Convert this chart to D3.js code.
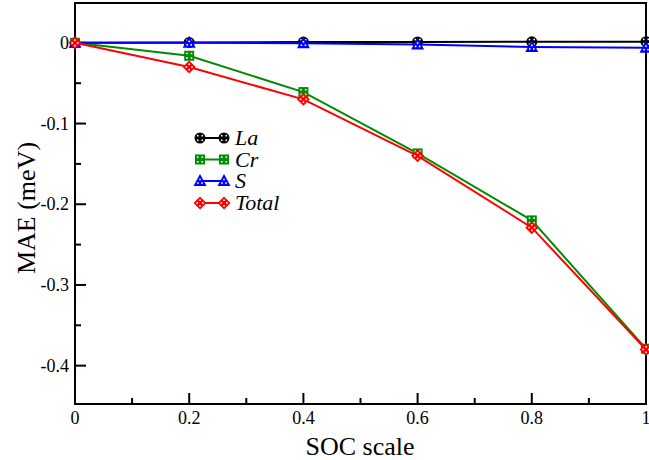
<!DOCTYPE html>
<html><head><meta charset="utf-8">
<script src="https://cdn.jsdelivr.net/npm/d3@7"></script>
<style>body{margin:0;background:#fff}</style>
</head><body><svg id="c" width="649" height="460"></svg>
<script>
const socScale = [0, 0.2, 0.4, 0.6, 0.8, 1.0];
const La    = [0, 0.0005, 0.001, 0.0012, 0.0013, 0.0015];
const Cr    = [0, -0.016, -0.061, -0.137, -0.220, -0.379];
const S     = [0, 0.0, -0.0005, -0.002, -0.005, -0.006];
const Total = [0, -0.030, -0.070, -0.140, -0.229, -0.380];
const seriesNames = ["La", "Cr", "S", "Total"];
const seriesColors = ["#000000", "#008c00", "#0000ff", "#ff0000"];
const seriesShapes = ["circle", "square", "triangle", "diamond"];
const xTicks = [0, 0.2, 0.4, 0.6, 0.8, 1];
const xTickLabels = ["0", "0.2", "0.4", "0.6", "0.8", "1"];
const yTicks = [0, -0.1, -0.2, -0.3, -0.4];
const yTickLabels = ["0", "-0.1", "-0.2", "-0.3", "-0.4"];
const xLabel = "SOC scale";
const yLabel = "MAE (meV)";

const svg = d3.select("#c");
const L = 75, R = 646, T = 3, B = 404;
const x = d3.scaleLinear().domain([0, 1]).range([L, R]);
const y = d3.scaleLinear().domain([-0.45, 0.05]).range([406, 2.5]);

function st(size, italic) {
  return `font-family:"Times New Roman","Liberation Serif",serif;font-size:${size}px;` + (italic ? "font-style:italic;" : "");
}

// frame
svg.append("rect").attr("x", L).attr("y", T).attr("width", R - L).attr("height", B - T)
  .attr("fill", "none").attr("stroke", "#000").attr("stroke-width", 2);

// x axis ticks (inward)
const xMinor = [0.1, 0.3, 0.5, 0.7, 0.9];
const xAx = svg.append("g");
xAx.selectAll("line.maj").data(xTicks).join("line")
  .attr("x1", d => x(d)).attr("x2", d => x(d)).attr("y1", B).attr("y2", B - 11)
  .attr("stroke", "#000").attr("stroke-width", 2);
xAx.selectAll("line.min").data(xMinor).join("line")
  .attr("x1", d => x(d)).attr("x2", d => x(d)).attr("y1", B).attr("y2", B - 6)
  .attr("stroke", "#000").attr("stroke-width", 2);
xAx.selectAll("text").data(xTicks).join("text")
  .attr("x", d => x(d)).attr("y", 424).attr("text-anchor", "middle")
  .attr("style", st(18)).text((d, i) => xTickLabels[i]);

// y axis ticks
const yMinor = [-0.05, -0.15, -0.25, -0.35];
const yAx = svg.append("g");
yAx.selectAll("line.maj").data(yTicks).join("line")
  .attr("x1", L).attr("x2", L + 11).attr("y1", d => y(d)).attr("y2", d => y(d))
  .attr("stroke", "#000").attr("stroke-width", 2);
yAx.selectAll("line.min").data(yMinor).join("line")
  .attr("x1", L).attr("x2", L + 6).attr("y1", d => y(d)).attr("y2", d => y(d))
  .attr("stroke", "#000").attr("stroke-width", 2);
yAx.selectAll("text").data(yTicks).join("text")
  .attr("x", 69).attr("y", d => y(d) + 6).attr("text-anchor", "end")
  .attr("style", st(18)).text((d, i) => yTickLabels[i]);

// labels
svg.append("text").attr("x", 360).attr("y", 455).attr("text-anchor", "middle")
  .attr("style", st(26)).text(xLabel);
svg.append("text").attr("transform", "translate(35,208) rotate(-90)").attr("text-anchor", "middle")
  .attr("style", st(26)).text(yLabel);

function marker(g, shape, color, cx, cy) {
  const m = g.append("g").attr("transform", `translate(${cx},${cy})`);
  if (shape === "circle") {
    m.append("circle").attr("r", 5.5).attr("fill", color);
  } else if (shape === "square") {
    m.append("rect").attr("x", -5).attr("y", -5).attr("width", 10).attr("height", 10).attr("fill", color);
  } else if (shape === "triangle") {
    m.append("path").attr("d", "M0,-7 L6.5,5 L-6.5,5 Z").attr("fill", color);
  } else {
    m.append("path").attr("d", "M0,-6.5 L6.5,0 L0,6.5 L-6.5,0 Z").attr("fill", color);
  }
  let dd = [[-2.3,-2.3],[2.3,-2.3],[-2.3,2.3],[2.3,2.3]];
  if (shape === "triangle") dd = [[0,-1.5],[-2,2],[2,2]];
  if (shape === "diamond") dd = [[0,-2.8],[2.8,0],[0,2.8],[-2.8,0]];
  dd.forEach(p => m.append("rect").attr("x", p[0] - 0.8).attr("y", p[1] - 0.8)
    .attr("width", 1.6).attr("height", 1.6).attr("fill", "#fff"));
}

const data = [La, Cr, S, Total];
const line = d3.line().x((d, i) => x(socScale[i])).y(d => y(d));
data.forEach((vals, k) => {
  const g = svg.append("g");
  g.append("path").datum(vals).attr("d", line).attr("fill", "none")
    .attr("stroke", seriesColors[k]).attr("stroke-width", 2);
  vals.forEach((v, i) => marker(g, seriesShapes[k], seriesColors[k], x(socScale[i]), y(v)));
});

// legend
const legY = [138, 159.5, 181, 203];
seriesNames.forEach((n, k) => {
  const g = svg.append("g");
  const yy = legY[k];
  g.append("line").attr("x1", 200).attr("x2", 224).attr("y1", yy).attr("y2", yy)
    .attr("stroke", seriesColors[k]).attr("stroke-width", 2);
  marker(g, seriesShapes[k], seriesColors[k], 200, yy);
  marker(g, seriesShapes[k], seriesColors[k], 224, yy);
  g.append("text").attr("x", 235).attr("y", yy + 7)
    .attr("style", st(22, true)).text(n);
});
</script></body></html>
